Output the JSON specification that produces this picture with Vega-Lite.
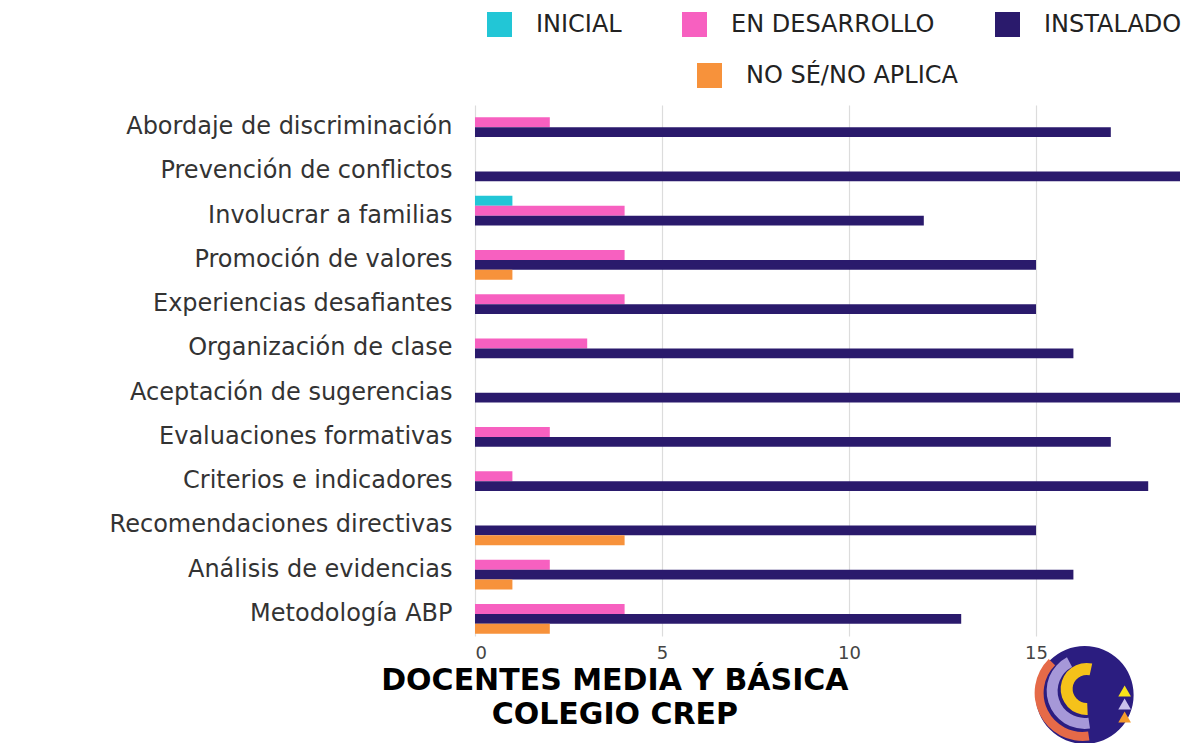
{
  "$schema": "https://vega.github.io/schema/vega-lite/v6.json",
  "width": 705,
  "height": 531,
  "autosize": {"type": "none"},
  "padding": {"left": 475, "top": 105, "right": 24, "bottom": 107},
  "background": "white",
  "config": {"view": {"stroke": null}},
  "datasets": {
    "bars": [
      {"item": "Abordaje de discriminación", "estado": "EN DESARROLLO", "n": 2},
      {"item": "Abordaje de discriminación", "estado": "INSTALADO", "n": 17},
      {"item": "Prevención de conflictos", "estado": "INSTALADO", "n": 19},
      {"item": "Involucrar a familias", "estado": "INICIAL", "n": 1},
      {"item": "Involucrar a familias", "estado": "EN DESARROLLO", "n": 4},
      {"item": "Involucrar a familias", "estado": "INSTALADO", "n": 12},
      {"item": "Promoción de valores", "estado": "EN DESARROLLO", "n": 4},
      {"item": "Promoción de valores", "estado": "INSTALADO", "n": 15},
      {"item": "Promoción de valores", "estado": "NO SÉ/NO APLICA", "n": 1},
      {"item": "Experiencias desafiantes", "estado": "EN DESARROLLO", "n": 4},
      {"item": "Experiencias desafiantes", "estado": "INSTALADO", "n": 15},
      {"item": "Organización de clase", "estado": "EN DESARROLLO", "n": 3},
      {"item": "Organización de clase", "estado": "INSTALADO", "n": 16},
      {"item": "Aceptación de sugerencias", "estado": "INSTALADO", "n": 19},
      {"item": "Evaluaciones formativas", "estado": "EN DESARROLLO", "n": 2},
      {"item": "Evaluaciones formativas", "estado": "INSTALADO", "n": 17},
      {"item": "Criterios e indicadores", "estado": "EN DESARROLLO", "n": 1},
      {"item": "Criterios e indicadores", "estado": "INSTALADO", "n": 18},
      {"item": "Recomendaciones directivas", "estado": "INSTALADO", "n": 15},
      {"item": "Recomendaciones directivas", "estado": "NO SÉ/NO APLICA", "n": 4},
      {"item": "Análisis de evidencias", "estado": "EN DESARROLLO", "n": 2},
      {"item": "Análisis de evidencias", "estado": "INSTALADO", "n": 16},
      {"item": "Análisis de evidencias", "estado": "NO SÉ/NO APLICA", "n": 1},
      {"item": "Metodología ABP", "estado": "EN DESARROLLO", "n": 4},
      {"item": "Metodología ABP", "estado": "INSTALADO", "n": 13},
      {"item": "Metodología ABP", "estado": "NO SÉ/NO APLICA", "n": 2}
    ],
    "logo": [{"lx": 16.3, "ly": -0.111}],
    "caption": [{"tx": 3.74, "ty": -0.0847}]
  },
  "resolve": {"scale": {"y": "independent"}},
  "layer": [
    {
      "data": {"name": "bars"},
      "resolve": {"scale": {"color": "independent"}, "legend": {"color": "independent"}},
      "encoding": {
        "x": {
          "field": "n", "type": "quantitative",
          "scale": {"domain": [0, 18.85], "nice": false, "zero": true},
          "axis": {
            "values": [0, 5, 10, 15], "title": null, "domain": false, "ticks": false,
            "grid": true, "gridColor": "#dcdcdc", "gridWidth": 1.2,
            "labelFont": "DejaVu Sans", "labelFontSize": 18, "labelColor": "#444444", "labelPadding": 8
          }
        },
        "y": {
          "field": "item", "type": "nominal",
          "scale": {
            "domain": ["Abordaje de discriminación", "Prevención de conflictos", "Involucrar a familias", "Promoción de valores", "Experiencias desafiantes", "Organización de clase", "Aceptación de sugerencias", "Evaluaciones formativas", "Criterios e indicadores", "Recomendaciones directivas", "Análisis de evidencias", "Metodología ABP"],
            "paddingInner": 0.1, "paddingOuter": 0.05
          },
          "axis": {
            "title": null, "domain": false, "ticks": false, "labelPadding": 23,
            "labelFont": "DejaVu Sans", "labelFontSize": 24, "labelColor": "#333333", "labelLimit": 600
          }
        },
        "yOffset": {
          "field": "estado", "type": "nominal",
          "scale": {"domain": ["INICIAL", "EN DESARROLLO", "INSTALADO", "NO SÉ/NO APLICA"], "paddingInner": 0, "paddingOuter": 0}
        }
      },
      "layer": [
        {
          "transform": [{"filter": "datum.estado !== 'NO SÉ/NO APLICA'"}],
          "mark": {"type": "bar", "clip": true},
          "encoding": {
            "color": {
              "field": "estado", "type": "nominal",
              "scale": {"domain": ["INICIAL", "EN DESARROLLO", "INSTALADO"], "range": ["#22c6d6", "#f760c0", "#2a1a6c"]},
              "legend": {
                "title": null, "orient": "none", "direction": "horizontal", "legendX": 12, "legendY": -93,
                "symbolType": "square", "symbolSize": 625, "symbolStrokeWidth": 0, "symbolOpacity": 1,
                "labelFont": "DejaVu Sans", "labelFontSize": 24, "labelColor": "#222222", "labelOffset": 24,
                "columnPadding": 60, "labelLimit": 400
              }
            }
          }
        },
        {
          "transform": [{"filter": "datum.estado === 'NO SÉ/NO APLICA'"}],
          "mark": {"type": "bar", "clip": true},
          "encoding": {
            "color": {
              "field": "estado", "type": "nominal",
              "scale": {"domain": ["NO SÉ/NO APLICA"], "range": ["#f7923b"]},
              "legend": {
                "title": null, "orient": "none", "direction": "horizontal", "legendX": 222, "legendY": -42,
                "symbolType": "square", "symbolSize": 625, "symbolStrokeWidth": 0, "symbolOpacity": 1,
                "labelFont": "DejaVu Sans", "labelFontSize": 24, "labelColor": "#222222", "labelOffset": 24,
                "labelLimit": 400
              }
            }
          }
        }
      ]
    },
    {
      "data": {"name": "caption"},
      "mark": {
        "type": "text",
        "text": ["DOCENTES MEDIA Y BÁSICA", "COLEGIO CREP"],
        "font": "DejaVu Sans", "fontWeight": "bold", "fontSize": 30, "lineHeight": 34,
        "align": "center", "baseline": "middle", "color": "#000000"
      },
      "encoding": {
        "x": {"field": "tx", "type": "quantitative"},
        "y": {"field": "ty", "type": "quantitative", "scale": {"domain": [0, 1], "nice": false, "zero": false}, "axis": null}
      }
    },
    {
      "data": {"name": "logo"},
      "encoding": {
        "x": {"field": "lx", "type": "quantitative"},
        "y": {"field": "ly", "type": "quantitative", "scale": {"domain": [0, 1], "nice": false, "zero": false}, "axis": null}
      },
      "layer": [
        {"mark": {"type": "point", "shape": "circle", "filled": true, "size": 9600, "color": "#2b1d80", "opacity": 1}},
        {"mark": {"type": "arc", "theta": 3.1, "theta2": 6.5, "radius": 26, "radius2": 14, "color": "#f5c21a", "xOffset": 2, "yOffset": -6}},
        {"mark": {"type": "arc", "theta": 3.0, "theta2": 5.8, "radius": 38, "radius2": 27, "color": "#a698d8", "xOffset": 0, "yOffset": -4}},
        {"mark": {"type": "arc", "theta": 3.0, "theta2": 5.5, "radius": 48, "radius2": 39, "color": "#e56a48", "xOffset": -2, "yOffset": -2}},
        {"mark": {"type": "point", "shape": "triangle-up", "filled": true, "size": 160, "color": "#f7e21a", "opacity": 1, "xOffset": 40, "yOffset": -4}},
        {"mark": {"type": "point", "shape": "triangle-up", "filled": true, "size": 160, "color": "#c9c1ec", "opacity": 1, "xOffset": 40, "yOffset": 9}},
        {"mark": {"type": "point", "shape": "triangle-up", "filled": true, "size": 160, "color": "#f49a2b", "opacity": 1, "xOffset": 40, "yOffset": 22}}
      ]
    }
  ]
}
